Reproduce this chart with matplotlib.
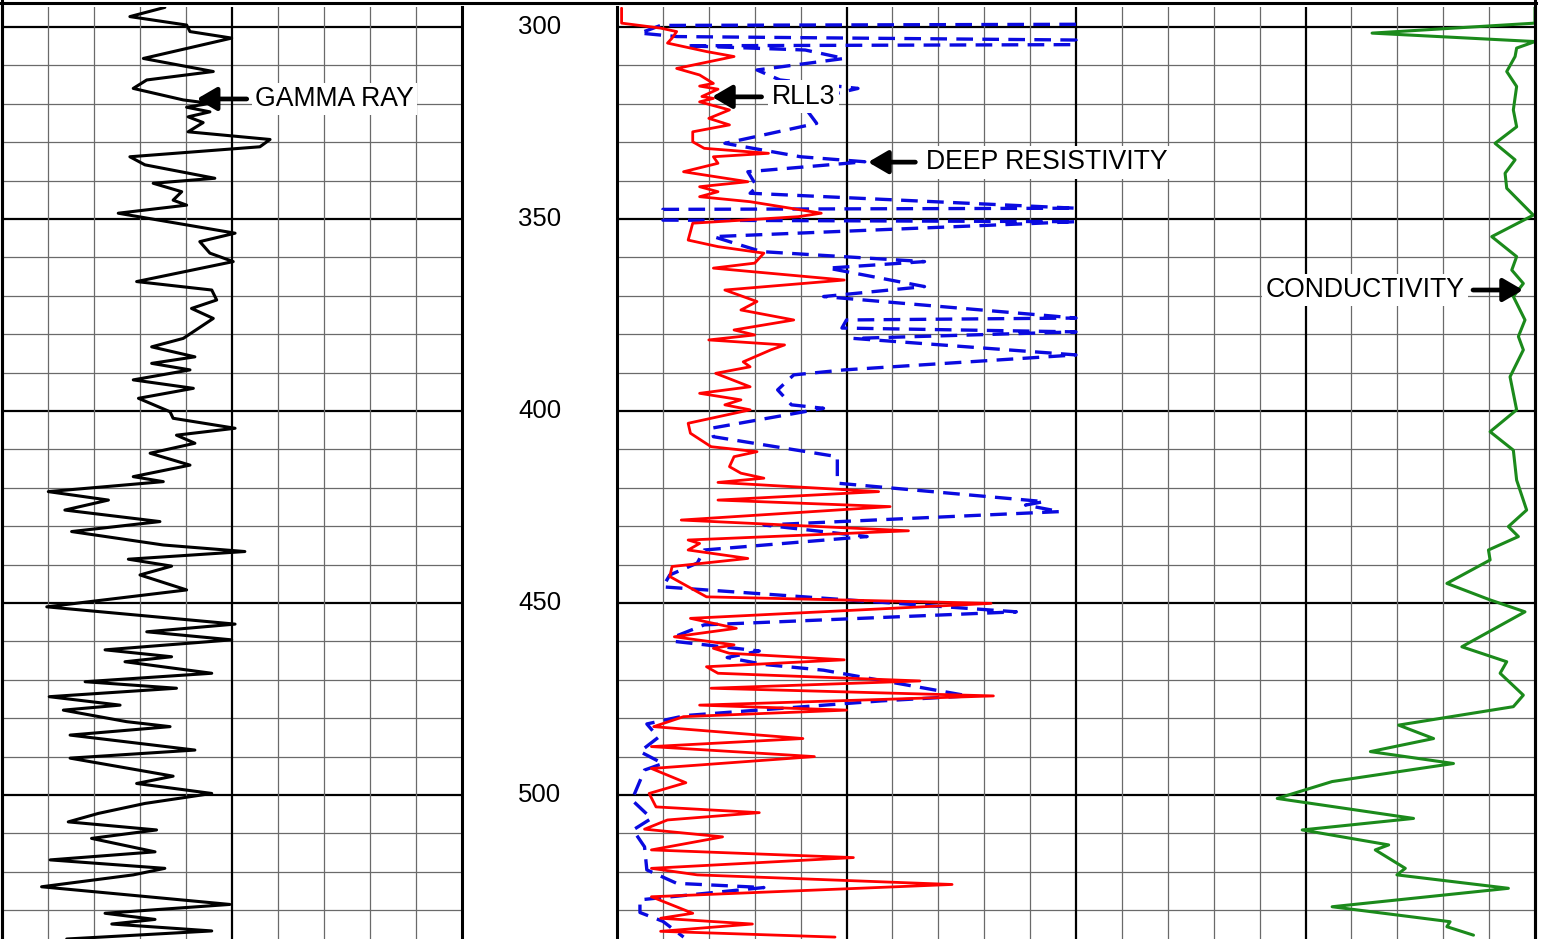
import matplotlib
matplotlib.use("Agg")
import matplotlib.pyplot as plt
from matplotlib.lines import Line2D

plt.rcParams['font.family'] = ['Liberation Sans', 'DejaVu Sans']

# gamma ray, API (track 1, 0-150)
gr_depth = [294.9, 297.3, 299.5, 301.2, 302.9, 308.2, 311.6, 313.8, 316.0, 319.0,
            319.9, 320.9, 322.1, 323.4, 324.9, 327.3, 329.3, 331.2, 333.8, 335.9,
            339.4, 340.7, 342.9, 345.1, 346.4, 348.5, 353.7, 355.9, 358.9, 361.1,
            366.3, 368.5, 371.1, 373.3, 375.9, 381.1, 383.3, 385.9, 387.6, 389.3,
            391.9, 394.1, 396.7, 400.2, 401.9, 404.5, 406.3, 408.4, 411.0, 414.1,
            417.1, 418.4, 421.0, 423.2, 425.8, 428.8, 431.4, 434.9, 436.6, 438.6,
            440.4, 442.7, 446.6, 451.0, 455.5, 457.5, 459.6, 462.2, 464.0, 465.3,
            468.3, 470.5, 472.2, 474.4, 476.6, 477.9, 480.9, 482.2, 484.4, 488.3,
            490.4, 495.1, 497.0, 499.6, 502.2, 504.8, 507.0, 509.1, 511.3, 514.8,
            516.9, 519.1, 520.8, 523.9, 528.5, 530.8, 532.4, 533.6, 535.4, 537.5]
gr_api = [53.1, 41.7, 60.2, 61.3, 74.9, 46.1, 68.9, 47.2, 42.8, 59.1,
          67.8, 60.2, 67.8, 60.7, 65.6, 60.7, 87.4, 84.1, 41.7, 46.6,
          69.4, 49.3, 58.6, 55.8, 60.2, 37.9, 76.0, 64.5, 67.8, 75.4,
          43.9, 68.4, 70.0, 61.8, 68.9, 59.1, 48.8, 62.9, 48.8, 61.3,
          42.8, 62.4, 44.5, 54.8, 55.8, 76.0, 56.9, 62.9, 48.3, 61.3,
          42.8, 52.6, 15.1, 34.7, 20.5, 51.5, 22.7, 52.6, 79.2, 41.2,
          55.3, 45.0, 60.2, 14.6, 76.0, 47.2, 74.9, 33.6, 55.3, 40.1,
          68.4, 27.1, 56.9, 15.4, 38.5, 20.0, 40.6, 54.8, 22.2, 62.9,
          22.2, 55.8, 43.9, 68.4, 46.6, 31.4, 21.6, 50.4, 29.2, 49.9,
          15.7, 53.1, 42.8, 12.9, 74.3, 33.6, 49.9, 35.8, 68.4, 21.1]

# shallow laterolog RLL3, ohm-m (0-20 across first half of track 2)
rll3_depth = [295.1, 299.0, 300.3, 301.2, 302.9, 304.2, 306.4, 307.7, 310.8, 312.5,
              314.7, 315.4, 316.2, 318.1, 318.6, 319.5, 321.6, 323.8, 325.5, 327.3,
              329.9, 331.6, 332.9, 333.8, 335.5, 337.7, 340.3, 341.6, 342.9, 344.2,
              345.5, 348.5, 349.4, 351.1, 355.5, 357.2, 358.9, 361.5, 362.8, 365.9,
              368.5, 371.5, 373.7, 376.3, 378.9, 380.2, 381.5, 382.8, 384.1, 387.2,
              388.5, 390.2, 393.7, 395.4, 397.1, 398.4, 399.7, 403.2, 405.8, 409.3,
              410.6, 411.9, 414.5, 416.2, 417.5, 418.6, 421.0, 423.2, 424.9, 428.4,
              431.2, 433.6, 434.5, 436.2, 438.4, 440.5, 443.1, 448.4, 450.1, 454.0,
              456.6, 458.8, 460.9, 461.8, 463.1, 464.8, 466.6, 468.3, 470.3, 472.2,
              474.2, 476.6, 477.9, 479.6, 482.2, 485.3, 487.4, 490.0, 493.1, 496.8,
              499.6, 503.1, 504.6, 506.5, 508.9, 510.9, 514.3, 516.3, 519.1, 520.8,
              523.3, 526.5, 530.8, 532.1, 533.6, 535.5, 537.0]
rll3_ohmm = [0.2, 0.2, 1.9, 2.6, 2.4, 2.2, 3.9, 5.1, 2.6, 3.6,
             4.2, 3.6, 4.4, 3.7, 4.2, 3.6, 4.9, 4.0, 4.9, 3.3,
             3.3, 3.8, 6.6, 4.2, 4.4, 2.9, 5.7, 3.6, 4.4, 3.6,
             5.8, 8.9, 7.9, 3.3, 3.1, 4.4, 6.4, 6.0, 4.2, 9.9,
             4.7, 6.1, 5.4, 7.7, 5.1, 6.0, 4.0, 7.3, 6.7, 5.5,
             5.8, 4.3, 5.8, 3.6, 5.4, 4.7, 5.8, 3.1, 3.2, 4.1,
             6.1, 5.1, 4.9, 5.4, 6.4, 4.4, 11.4, 4.4, 11.9, 2.8,
             12.7, 3.1, 3.6, 3.1, 5.7, 2.4, 2.3, 3.9, 16.3, 3.2,
             5.2, 2.5, 5.1, 4.2, 4.9, 9.9, 3.9, 4.4, 13.2, 4.1,
             16.4, 3.6, 10.0, 2.9, 1.6, 8.1, 1.5, 8.6, 1.5, 3.0,
             1.4, 1.7, 6.2, 2.2, 1.2, 4.6, 1.5, 10.3, 1.5, 3.5,
             14.6, 1.5, 3.3, 1.9, 5.9, 1.9, 9.5]

# deep resistivity, ohm-m, pinned at 20 where it runs off the scale
deep_depth = [299.3, 299.6, 301.6, 302.5, 303.4, 304.6, 304.9, 306.0, 308.2, 311.2,
              313.8, 316.0, 319.5, 325.1, 330.3, 333.8, 335.1, 337.7, 341.6, 343.3,
              347.2, 347.5, 350.3, 350.7, 354.6, 358.5, 361.1, 362.8, 367.6, 370.2,
              375.8, 376.3, 378.4, 379.4, 381.1, 385.4, 389.3, 390.6, 394.5, 398.4,
              399.3, 404.5, 406.7, 411.9, 418.8, 423.6, 424.5, 426.2, 429.7, 432.7,
              436.2, 439.6, 442.7, 445.8, 452.3, 455.7, 458.8, 460.0, 461.0, 462.5,
              464.2, 466.0, 467.5, 474.2, 475.5, 479.3, 481.5, 485.0, 488.7, 491.8,
              493.5, 501.3, 506.1, 509.1, 513.5, 519.5, 523.0, 524.1, 527.3, 530.6,
              532.9, 537.0]
deep_ohmm = [20.0, 1.9, 1.0, 2.6, 20.0, 20.0, 3.0, 8.2, 9.9, 6.1,
             7.1, 10.5, 8.0, 8.7, 4.7, 8.0, 10.8, 5.7, 6.1, 5.8,
             20.0, 2.0, 2.0, 20.0, 4.2, 6.3, 13.4, 9.2, 13.4, 9.0,
             20.0, 10.0, 9.8, 20.0, 10.3, 20.0, 9.9, 7.7, 7.0, 7.6,
             9.0, 4.1, 4.2, 9.6, 9.6, 18.6, 17.8, 19.3, 6.4, 10.9,
             3.8, 3.5, 2.3, 2.0, 17.4, 3.8, 2.5, 2.5, 4.0, 6.2,
             4.8, 6.4, 9.0, 15.3, 11.5, 3.0, 1.3, 1.8, 1.0, 2.0,
             1.2, 0.65, 1.5, 0.7, 1.2, 1.3, 2.6, 6.4, 1.0, 1.0,
             2.0, 2.9]

# conductivity, mmho/m, increasing to the left from the right edge
cond_depth = [294.8, 299.0, 301.6, 303.8, 305.5, 307.7, 311.6, 315.5, 321.6, 326.0,
              330.3, 334.6, 338.1, 342.0, 349.0, 354.6, 359.8, 363.3, 366.8, 370.2,
              376.3, 380.6, 384.1, 391.1, 399.7, 405.4, 410.2, 418.0, 425.8, 430.1,
              432.7, 436.2, 438.8, 444.9, 449.2, 452.3, 461.4, 465.3, 468.3, 474.0,
              477.0, 481.8, 485.3, 488.7, 491.8, 496.5, 500.9, 506.1, 509.1, 513.0,
              514.3, 519.1, 520.8, 524.3, 529.1, 533.0, 534.3, 536.5]
cond_mmho = [0, 0, 177.5, 0, 20, 21.7, 30.8, 20, 23.6, 20,
             43.5, 21.7, 32.6, 30.8, 1.8, 47.1, 20, 25.3, 12.7, 23.6,
             10.9, 18.1, 12.7, 27.2, 20, 48.9, 23.6, 20, 9.1, 29,
             18.1, 50.7, 48.9, 96, 48.9, 10.9, 79.7, 30.8, 38, 12.7,
             23.6, 148.6, 110.5, 179.3, 88.8, 221, 280.8, 132.3, 253.6, 159.4,
             174, 141.3, 150.4, 29, 221, 92.5, 96, 67]

depth_labels = [300, 350, 400, 450, 500]

W, H = 1547, 939
DTOP, DBOT = 294.8, 537.5
THIN = '#6a6a6a'

fig = plt.figure(figsize=(W / 100, H / 100), dpi=100)


def track(x0, x1):
    ax = fig.add_axes([x0 / W, 0, (x1 - x0) / W, (H - 7) / H])
    ax.set_ylim(DBOT, DTOP)
    ax.set_xticks([])
    ax.set_yticks([])
    for s in ('top', 'bottom'):
        ax.spines[s].set_visible(False)
    for s in ('left', 'right'):
        ax.spines[s].set_linewidth(2.2)
        ax.spines[s].set_color('black')
    return ax


def grid(ax, xs, major_every):
    for d in range(300, 540, 10):
        major = d % 50 == 0
        ax.axhline(d, color='black' if major else THIN, lw=1.6 if major else 0.9, zorder=1)
    for i, x in enumerate(xs, start=1):
        major = i % major_every == 0
        ax.axvline(x, color='black' if major else THIN, lw=1.6 if major else 0.9, zorder=1)


arrow = dict(arrowstyle='-|>,head_length=0.6,head_width=0.35', lw=3.4, color='black',
             shrinkA=0, shrinkB=0, mutation_scale=20)
box = dict(facecolor='white', edgecolor='none', pad=2.5)
curve = dict(solid_joinstyle='round', solid_capstyle='round')

# track 1: gamma ray
ax_gr = track(2, 462)
ax_gr.set_xlim(0, 150)
grid(ax_gr, range(15, 150, 15), 5)
ax_gr.plot(gr_api, gr_depth, color='black', lw=2.2, zorder=3, **curve)
ax_gr.annotate('', xy=(63.5, 318.75), xytext=(79.8, 318.75), arrowprops=arrow, zorder=6)
ax_gr.text(82.5, 318.75, 'GAMMA RAY', fontsize=19.2, ha='left', va='center', bbox=box, zorder=5)

# depth track
ax_d = fig.add_axes([462 / W, 0, 155 / W, (H - 7) / H])
ax_d.set_ylim(DBOT, DTOP)
ax_d.set_xlim(0, 1)
ax_d.axis('off')
for d in depth_labels:
    ax_d.text(0.5, d, str(d), fontsize=18.5, ha='center', va='center')

# track 2/3: resistivity + conductivity
ax_r = track(617, 1535)
ax_r.set_xlim(0, 40)
grid(ax_r, range(2, 40, 2), 5)
ax_r.plot(deep_ohmm, deep_depth, color='#0a0ae0', lw=2.4, dashes=(5, 2.8), zorder=3)
ax_r.plot(rll3_ohmm, rll3_depth, color='#ff0000', lw=2.0, zorder=4, **curve)
ax_r.annotate('', xy=(4.14, 318.2), xytext=(6.3, 318.2), arrowprops=arrow, zorder=6)
ax_r.text(6.75, 318.2, 'RLL3', fontsize=19.2, ha='left', va='center', bbox=box, zorder=5)
ax_r.annotate('', xy=(10.94, 335.2), xytext=(13.0, 335.2), arrowprops=arrow, zorder=6)
ax_r.text(13.46, 335.2, 'DEEP RESISTIVITY', fontsize=19.2, ha='left', va='center', bbox=box, zorder=5)

ax_c = ax_r.twiny()
ax_c.set_xlim(1000, 0)
ax_c.set_ylim(DBOT, DTOP)
ax_c.axis('off')
ax_c.plot(cond_mmho, cond_depth, color='#1b8a1b', lw=2.2, zorder=3, **curve)
ax_c.annotate('', xy=(13.1, 368.5), xytext=(67.5, 368.5), arrowprops=arrow, zorder=6)
ax_c.text(76.3, 368.5, 'CONDUCTIVITY', fontsize=19.2, ha='right', va='center', bbox=box, zorder=5)

# outer frame
for xs, ys in (([0, 1536 / W], [1 - 3 / H] * 2),
               ([2 / W] * 2, [0, 1]),
               ([1535 / W] * 2, [0, 1])):
    fig.add_artist(Line2D(xs, ys, transform=fig.transFigure, color='black', lw=2.2))

fig.savefig('out.png', dpi=100)
plt.close(fig)
